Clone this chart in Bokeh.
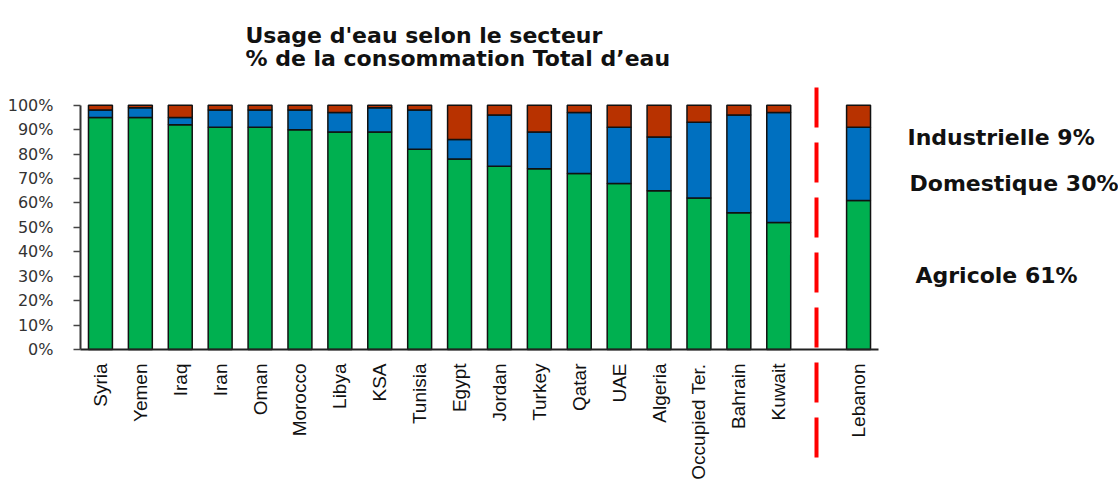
from bokeh.plotting import figure
from bokeh.models import ColumnDataSource, Range1d, FixedTicker, NumeralTickFormatter, Label, Arrow
from bokeh.embed import file_html
from bokeh.resources import INLINE

countries = ["Syria", "Yemen", "Iraq", "Iran", "Oman", "Morocco", "Libya", "KSA", "Tunisia",
             "Egypt", "Jordan", "Turkey", "Qatar", "UAE", "Algeria", "Occupied Ter.",
             "Bahrain", "Kuwait", "Lebanon"]
agricole = [95, 95, 92, 91, 91, 90, 89, 89, 82, 78, 75, 74, 72, 68, 65, 62, 56, 52, 61]
domestique = [3, 4, 3, 7, 7, 8, 8, 10, 16, 8, 21, 15, 25, 23, 22, 31, 40, 45, 30]
industrielle = [2, 1, 5, 2, 2, 2, 3, 1, 2, 14, 4, 11, 3, 9, 13, 7, 4, 3, 9]

title_lines = ["Usage d'eau selon le secteur", "% de la consommation Total d\u2019eau"]
side_labels = ["Industrielle 9%", "Domestique 30%", "Agricole 61%"]

W, H = 1118, 486
# screen layout: plot origin (0 %, left edge) at pixel (80, 349); 39.9 px per slot, 244.3 px per 100 %
X0, Y0, SX, SY = 80, 349, 39.9, 244.3


def dx(px):
    return (px - X0) / SX


def dy(py):
    return (Y0 - py) / SY


# slot positions: 18 countries, one empty slot for the separator, then Lebanon
xs = [i + 0.5 for i in range(len(countries) - 1)] + [len(countries) + 0.5]
sep_x = dx(816)

src = ColumnDataSource(dict(
    x=xs,
    agri=[v / 100 for v in agricole],
    dom=[v / 100 for v in domestique],
    ind=[v / 100 for v in industrielle],
))

p = figure(width=W, height=H, output_backend="svg", toolbar_location=None,
           x_range=Range1d(dx(0), dx(W)), y_range=Range1d(dy(H), dy(0)),
           min_border=0)
p.outline_line_color = None
p.xgrid.visible = False
p.ygrid.visible = False
p.background_fill_color = "white"
p.border_fill_color = "white"

p.vbar_stack(["agri", "dom", "ind"], x="x", width=0.6, source=src,
             fill_color=["#00b050", "#0070c0", "#b83200"],
             line_color="#111111", line_width=1.5)

# y axis, fixed at the left edge of the bar area
p.yaxis.fixed_location = 0
p.yaxis.bounds = (0, 1)
p.yaxis.ticker = FixedTicker(ticks=[i / 10 for i in range(11)])
p.yaxis.formatter = NumeralTickFormatter(format="0%")
p.yaxis.major_label_text_font = "DejaVu Sans"
p.yaxis.major_label_text_font_size = "16px"
p.yaxis.major_label_text_color = "#333333"
p.yaxis.major_tick_out = 7
p.yaxis.major_tick_in = 0
p.yaxis.minor_tick_line_color = None
p.yaxis.major_label_standoff = 20
p.yaxis.axis_line_width = 2
p.yaxis.axis_line_color = "#333333"
p.yaxis.major_tick_line_width = 1.5
p.yaxis.major_tick_line_color = "#444444"

# x axis, fixed at 0 %
p.xaxis.fixed_location = 0
p.xaxis.bounds = (0, 20)
p.xaxis.ticker = FixedTicker(ticks=xs)
p.xaxis.major_label_overrides = {x: c for x, c in zip(xs, countries)}
p.xaxis.major_label_orientation = 3.14159265 / 2
p.xaxis.major_label_text_font = "Liberation Sans"
p.xaxis.major_label_text_font_size = "19px"
p.xaxis.major_label_text_color = "#111111"
p.xaxis.major_tick_line_color = None
p.xaxis.minor_tick_line_color = None
p.xaxis.major_tick_out = 0
p.xaxis.major_label_standoff = 14
p.xaxis.axis_line_width = 2
p.xaxis.axis_line_color = "#222222"

# red dashed separator
p.add_layout(Arrow(end=None, x_start=sep_x, y_start=dy(87), x_end=sep_x, y_end=dy(457),
                   line_color="#ff0000", line_width=4, line_dash="40 15"))

# title
for txt, py in zip(title_lines, [35, 58]):
    p.add_layout(Label(x=dx(245), y=dy(py), text=txt, text_font="DejaVu Sans",
                       text_font_style="bold", text_font_size="22px", text_color="#111111",
                       text_baseline="alphabetic"))

# side labels
for txt, px, py in zip(side_labels, [907, 909, 915], [137, 183, 275]):
    p.add_layout(Label(x=dx(px), y=dy(py), text=txt, text_font="DejaVu Sans",
                       text_font_style="bold", text_font_size="22px", text_color="#111111",
                       text_baseline="alphabetic"))

open("out.html", "w").write(file_html(p, INLINE))
